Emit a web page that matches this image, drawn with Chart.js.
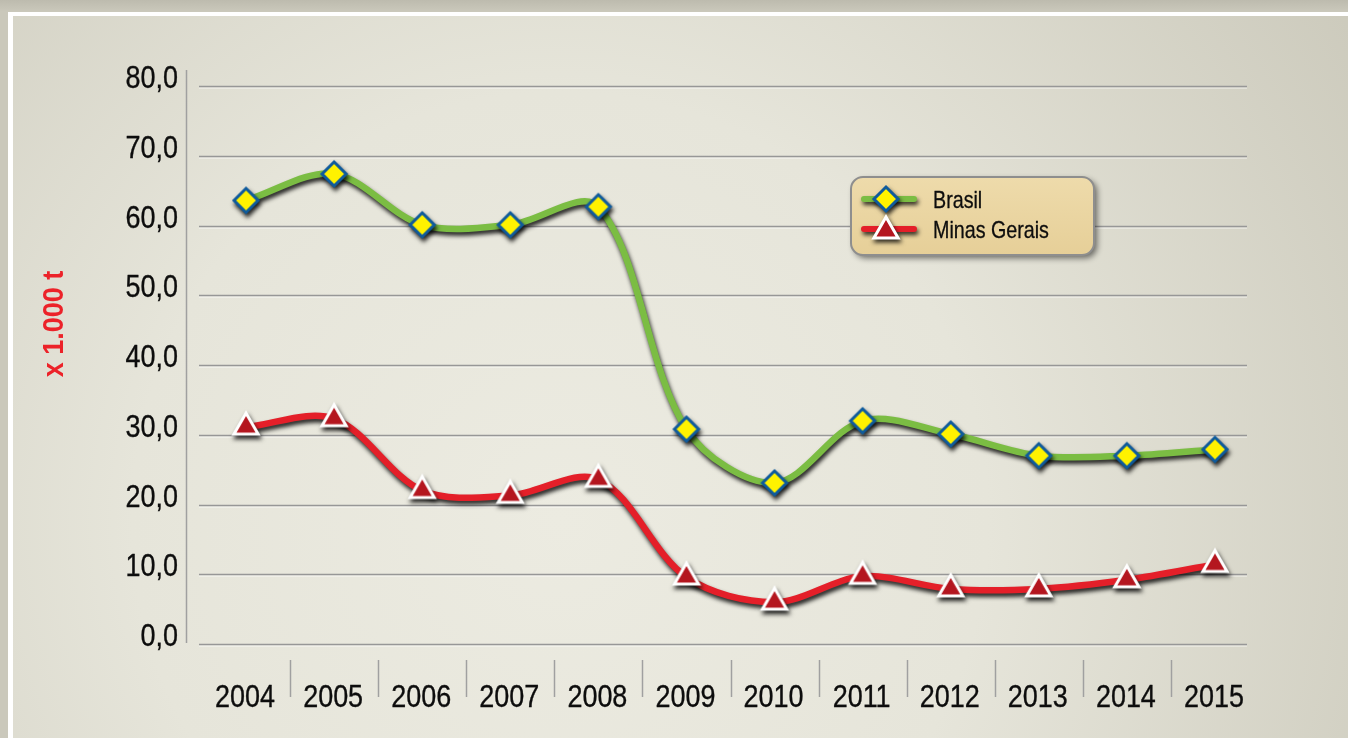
<!DOCTYPE html>
<html>
<head>
<meta charset="utf-8">
<script src="https://cdn.jsdelivr.net/npm/chart.js@4.4.1/dist/chart.umd.min.js"></script>
<style>
html,body{margin:0;padding:0;background:#c9c7ba;overflow:hidden;}
#wrap{position:absolute;left:0;top:0;width:1348px;height:738px;}
</style>
</head>
<body>
<div id="wrap"><canvas id="c" width="1348" height="738"></canvas></div>
<script>
const years = ['2004','2005','2006','2007','2008','2009','2010','2011','2012','2013','2014','2015'];
const brasil = [63.6, 67.4, 60.1, 60.1, 62.7, 30.8, 23.1, 32.0, 30.1, 27.0, 27.0, 27.9];
const minasGerais = [31.1, 32.3, 22.0, 21.3, 23.6, 9.6, 6.0, 9.7, 7.9, 7.9, 9.2, 11.4];
const yTicks = [0, 10, 20, 30, 40, 50, 60, 70, 80];
const seriesNames = ['Brasil', 'Minas Gerais'];
const yTitle = 'x 1.000 t';

const FONT = "'Liberation Sans', Arial, Helvetica, sans-serif";
Chart.defaults.font.family = FONT;
Chart.defaults.color = '#111';
const fmt = v => Number(v).toFixed(1).replace('.', ',');

// pre-rendered marker images (so the stroke shadow does not fall on the fill)
function makeMarker(style, radius, fill, border, bw) {
  const size = Math.ceil(radius * 2 + bw * 2 + 4);
  const cv = document.createElement('canvas');
  cv.width = size; cv.height = size;
  const c = cv.getContext('2d');
  c.fillStyle = fill; c.strokeStyle = border; c.lineWidth = bw; c.lineJoin = 'miter';
  Chart.helpers.drawPoint(c, { pointStyle: style, radius: radius, rotation: 0, borderWidth: bw }, size / 2, size / 2);
  return cv;
}
const diamondImg = makeMarker('rectRot', 12, '#fff200', '#0f5b9c', 3);
const triangleImg = makeMarker('triangle', 14, '#b4161f', '#ffffff', 3);

function condText(ctx, text, x, y, font, sx, align, color, weightStroke) {
  ctx.save();
  ctx.font = font;
  ctx.fillStyle = color;
  ctx.strokeStyle = color;
  ctx.textAlign = align;
  ctx.textBaseline = 'alphabetic';
  ctx.translate(x, y);
  ctx.scale(sx, 1);
  ctx.fillText(text, 0, 0);
  if (weightStroke) {
    ctx.lineWidth = weightStroke;
    ctx.lineJoin = 'round';
    ctx.strokeText(text, 0, 0);
  }
  ctx.restore();
}

const bgPlugin = {
  id: 'bg',
  beforeDraw(chart) {
    const ctx = chart.ctx;
    const W = chart.width, H = chart.height;
    ctx.save();
    let g = ctx.createLinearGradient(0, 0, 0, 14);
    g.addColorStop(0, '#bdbbae');
    g.addColorStop(1, '#cdcbbe');
    ctx.fillStyle = '#cac8bb';
    ctx.fillRect(0, 0, W, H);
    ctx.fillStyle = g;
    ctx.fillRect(0, 0, W, 12);
    ctx.fillStyle = '#ffffff';
    ctx.fillRect(8, 12, W - 8, H - 12);
    const rg = ctx.createRadialGradient(560, 520, 0, 560, 520, 950);
    rg.addColorStop(0, '#ecebe1');
    rg.addColorStop(0.45, '#e6e5da');
    rg.addColorStop(1, '#cccabc');
    ctx.fillStyle = rg;
    ctx.fillRect(13, 16, W - 13, H - 16);
    ctx.restore();
  }
};

const gridPlugin = {
  id: 'customGrid',
  beforeDatasetsDraw(chart) {
    const ctx = chart.ctx;
    const y = chart.scales.y, x = chart.scales.x;
    ctx.save();
    y.ticks.forEach((t, i) => {
      const py = Math.round(y.getPixelForTick(i)) + 0.5;
      ctx.strokeStyle = 'rgba(255,255,255,0.7)';
      ctx.lineWidth = 1;
      ctx.beginPath(); ctx.moveTo(199, py + 1.5); ctx.lineTo(1247, py + 1.5); ctx.stroke();
      ctx.strokeStyle = '#979797';
      ctx.lineWidth = 1.6;
      ctx.beginPath(); ctx.moveTo(199, py); ctx.lineTo(1247, py); ctx.stroke();
      condText(ctx, fmt(t.value), 178, py + 1, '31px ' + FONT, 0.87, 'right', '#0d0d0d', 0.35);
    });
    ctx.strokeStyle = '#a0a0a0';
    ctx.lineWidth = 1.5;
    ctx.beginPath();
    ctx.moveTo(186.5, y.getPixelForValue(80) - 16);
    ctx.lineTo(186.5, y.getPixelForValue(0) - 1);
    ctx.stroke();
    const y0 = y.getPixelForValue(0);
    for (let i = 0; i < years.length; i++) {
      if (i < years.length - 1) {
        const px = Math.round((x.getPixelForTick(i) + x.getPixelForTick(i + 1)) / 2) + 0.5;
        ctx.beginPath();
        ctx.moveTo(px, y0 + 16);
        ctx.lineTo(px, y0 + 53);
        ctx.stroke();
      }
      condText(ctx, x.getLabelForValue(i), x.getPixelForTick(i) - 1, y0 + 63, '31px ' + FONT, 0.87, 'center', '#0d0d0d', 0.35);
    }
    ctx.translate(52, 324);
    ctx.rotate(-Math.PI / 2);
    condText(ctx, yTitle, 0, 11, 'bold 30px ' + FONT, 0.9, 'center', '#ec2229', 0);
    ctx.restore();
  }
};

const shadowPlugin = {
  id: 'shadow',
  beforeDatasetDraw(chart) {
    const ctx = chart.ctx;
    ctx.save();
    ctx.shadowColor = 'rgba(0,0,0,0.85)';
    ctx.shadowBlur = 4;
    ctx.shadowOffsetX = 1.5;
    ctx.shadowOffsetY = 3.5;
  },
  afterDatasetDraw(chart) {
    chart.ctx.restore();
  }
};

const legendPlugin = {
  id: 'customLegend',
  afterDatasetsDraw(chart) {
    const ctx = chart.ctx;
    const x0 = 851, y0 = 177, w = 243, h = 78, r = 12;
    ctx.save();
    ctx.shadowColor = 'rgba(0,0,0,0.55)';
    ctx.shadowBlur = 6;
    ctx.shadowOffsetX = 3;
    ctx.shadowOffsetY = 3;
    const g = ctx.createLinearGradient(0, y0, 0, y0 + h);
    g.addColorStop(0, '#eedbab');
    g.addColorStop(1, '#e6cf98');
    ctx.fillStyle = g;
    ctx.beginPath();
    ctx.roundRect(x0, y0, w, h, r);
    ctx.fill();
    ctx.shadowColor = 'transparent';
    ctx.strokeStyle = '#8e8e8e';
    ctx.lineWidth = 2;
    ctx.stroke();
    ctx.restore();

    const rows = [199, 229];
    chart.data.datasets.forEach((ds, i) => {
      const cy = rows[i];
      ctx.save();
      ctx.shadowColor = 'rgba(0,0,0,0.8)';
      ctx.shadowBlur = 4;
      ctx.shadowOffsetX = 1.5;
      ctx.shadowOffsetY = 3;
      ctx.strokeStyle = ds.borderColor;
      ctx.lineWidth = 6;
      ctx.lineCap = 'round';
      ctx.beginPath(); ctx.moveTo(864, cy); ctx.lineTo(914, cy); ctx.stroke();
      const img = ds.pointStyle;
      ctx.drawImage(img, 886 - img.width / 2, (i === 1 ? cy + 2 : cy) - img.height / 2);
      ctx.restore();
      condText(ctx, ds.label, 933, cy + 8.5, '24px ' + FONT, 0.82, 'left', '#0d0d0d', 0.3);
    });
  }
};

new Chart(document.getElementById('c'), {
  type: 'line',
  data: {
    labels: years,
    datasets: [
      {
        label: seriesNames[0],
        data: brasil,
        borderColor: '#7bbd43',
        borderWidth: 6.5,
        tension: 0.33,
        pointStyle: diamondImg,
        pointRadius: 12,
        pointHoverRadius: 12,
        fill: false
      },
      {
        label: seriesNames[1],
        data: minasGerais,
        borderColor: '#e41f29',
        borderWidth: 6.5,
        tension: 0.33,
        pointStyle: triangleImg,
        pointRadius: 14,
        pointHoverRadius: 14,
        fill: false
      }
    ]
  },
  options: {
    responsive: false,
    animation: false,
    events: [],
    layout: { padding: { left: 0, top: 86, right: 89, bottom: 0 } },
    plugins: { legend: { display: false }, tooltip: { enabled: false } },
    scales: {
      x: {
        offset: true,
        grid: { display: false, drawTicks: false },
        border: { display: false },
        ticks: { display: false },
        afterFit(s) { s.height = 94; }
      },
      y: {
        min: 0, max: 80,
        afterBuildTicks(s) { s.ticks = yTicks.map(v => ({ value: v })); },
        grid: { display: false, drawTicks: false },
        border: { display: false },
        ticks: { display: false, callback: v => fmt(v) },
        afterFit(s) { s.width = 202; }
      }
    }
  },
  plugins: [bgPlugin, gridPlugin, shadowPlugin, legendPlugin]
});
</script>
</body>
</html>
